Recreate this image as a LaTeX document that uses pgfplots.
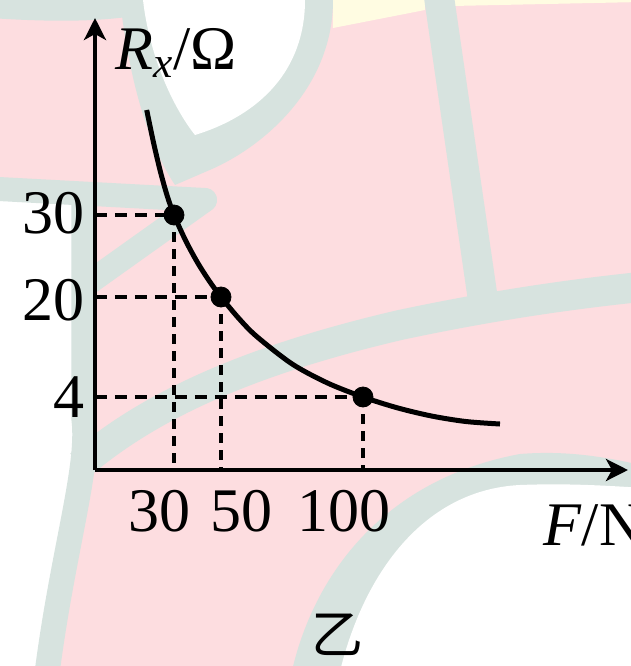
\documentclass[border=0pt]{standalone}
\usepackage{fontspec}
\setmainfont{Liberation Serif}
\newfontfamily\cjk{Noto Sans CJK SC}
\usepackage{pgfplots}
\pgfplotsset{compat=1.18}
\usetikzlibrary{arrows.meta}
\definecolor{pinkbg}{RGB}{253,221,224}
\definecolor{greybg}{RGB}{215,227,223}
\definecolor{yelbg}{RGB}{255,252,226}
\begin{document}
\begin{tikzpicture}
\useasboundingbox (-47.5pt,-98pt) rectangle (268pt,235pt);
\clip (-47.5pt,-98pt) rectangle (268pt,235pt);
% background (pixel coordinates of the reference, y downwards)
\begin{scope}[x=0.5pt,y=-0.5pt,shift={(-47.5pt,235pt)}]
\fill[pinkbg] (-10,-10) rectangle (641,676);
\fill[yelbg] (333,-5) -- (425,-5) -- (425,10) -- (333,28) -- cycle;
\fill[yelbg] (450,-5) -- (641,-5) -- (641,2) -- (452,6) -- cycle;
% top-left band
\fill[greybg] (-10,-5) -- (140,-5) -- (140,15) .. controls (100,22) and (50,22) .. (-10,18) -- cycle;
% ring and white drop
\fill[greybg] (120,-5) -- (120,0) .. controls (128,70) and (145,140) .. (175,185) -- (205,172) .. controls (260,150) and (333,90) .. (333,0) -- (333,-5) -- cycle;
\fill[white] (143,-5) -- (143,0) .. controls (150,60) and (175,110) .. (195,135) .. controls (260,115) and (305,70) .. (305,0) -- (305,-5) -- cycle;
% left white region
\fill[white] (-10,195) -- (84,195) -- (84,420) .. controls (90,470) and (60,560) .. (45,680) -- (-10,680) -- cycle;
% bands
\draw[greybg,line width=12pt,line cap=round] (-20,188) -- (205,200);
\draw[greybg,line width=12pt,line cap=round] (205,200) -- (90,282);
\draw[greybg,line width=12.5pt] (84,190) -- (84,420) .. controls (90,470) and (60,560) .. (45,690);
\draw[greybg,line width=15pt] (80,465) .. controls (150,405) and (250,360) .. (400,325) .. controls (480,308) and (560,295) .. (650,286);
\draw[greybg,line width=15pt] (438,-10) -- (483,300);
% bottom right arc
\fill[greybg] (290,690) -- (290,680) .. controls (310,580) and (380,480) .. (520,454) .. controls (570,450) and (610,458) .. (645,466) -- (645,690) -- cycle;
\fill[white] (338,690) -- (338,680) .. controls (360,580) and (420,490) .. (520,485) .. controls (570,483) and (610,486) .. (645,488) -- (645,690) -- cycle;
\end{scope}
\begin{axis}[
  scale only axis, width=266.5pt, height=226pt,
  xmin=0, xmax=533, ymin=0, ymax=452,
  axis lines=left,
  axis line style={line width=2.4pt, -{Stealth[length=11pt,width=11pt,inset=3pt]}},
  xtick={65,147,249}, xticklabels={30,50,100},
  ytick={257,170,73}, yticklabels={30,20,4},
  major tick length=0pt, tick style={draw=none},
  /pgf/number format/assume math mode=true,
  ticklabel style={font=\fontsize{31}{36}\selectfont, inner sep=0pt},
  xticklabel style={yshift=-10pt},
  yticklabel style={xshift=-5pt},
  xlabel={\textit{F}/N},
  xlabel style={at={(axis description cs:0.8405,-0.166)}, anchor=base west, inner sep=0pt, font=\fontsize{31}{36}\selectfont},
  ylabel={\textit{R}\textsubscript{\textit{x}}/Ω},
  ylabel style={at={(axis description cs:0.0375,0.885)}, rotate=-90, anchor=base west, inner sep=0pt, font=\fontsize{31}{36}\selectfont},
  clip=false,
]
% dashed guide lines
\addplot[black, line width=2.2pt, dash pattern=on 6pt off 4pt] coordinates {(0,255) (79,255)};
\addplot[black, line width=2.2pt, dash pattern=on 6pt off 4pt] coordinates {(0,173) (126,173)};
\addplot[black, line width=2.2pt, dash pattern=on 6pt off 4pt] coordinates {(0,73) (268,73)};
\addplot[black, line width=2.2pt, dash pattern=on 5pt off 3.5pt] coordinates {(79,255) (79,0)};
\addplot[black, line width=2.2pt, dash pattern=on 5pt off 3.5pt] coordinates {(126,173) (126,0)};
\addplot[black, line width=2.2pt, dash pattern=on 5pt off 3.5pt] coordinates {(268,73) (268,0)};
% curve
\addplot[black, line width=2.5pt, smooth] coordinates {
 (51.7,360) (58.5,327.5) (65.35,298.6) (72.2,274.2) (79,255)
 (90.75,229.2) (102.5,207.5) (114.25,189.1) (126,173)
 (143.75,151.7) (161.5,133.7) (197,106.1) (232.5,87) (268,73)
 (302.25,62.2) (336.5,54) (370.75,48.5) (405,46)};
% points
\addplot[black, only marks, mark=*, mark size=5pt] coordinates {(79,255) (126,173) (268,73)};
\node[font=\cjk\fontsize{26}{26}\selectfont] at (axis cs:243,-165) {乙};
\end{axis}
\end{tikzpicture}
\end{document}
